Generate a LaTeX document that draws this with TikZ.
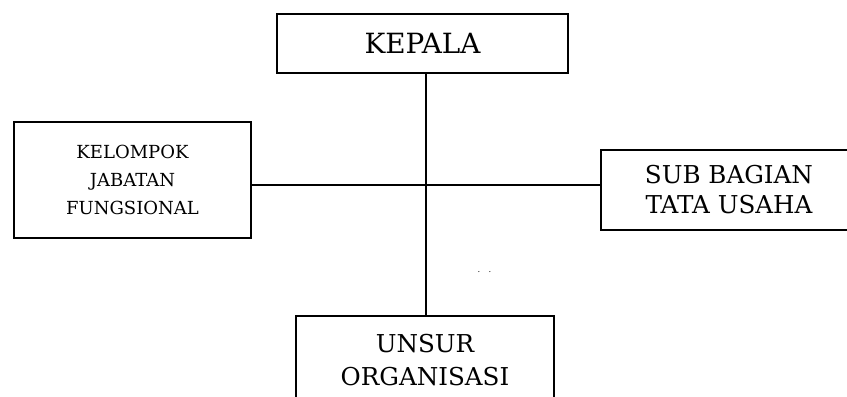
\documentclass[tikz,border=0pt]{standalone}
\usepackage{fontspec}
\setmainfont{DejaVu Serif}
\usetikzlibrary{calc}

\begin{document}
\begin{tikzpicture}[x=0.025cm,y=-0.025cm,line width=1.3pt,
    unit/.style={draw,rectangle,align=center,inner sep=0pt}]
                \useasboundingbox (0,0) rectangle (847,396);
                \clip (0,0) rectangle (847,396);
                \coordinate (hub) at (426,185);
                \node[unit,minimum width=7.275cm,minimum height=1.475cm,font=\fontsize{19.8}{23}\selectfont] (kepala) at (422.5,43.5) {KEPALA};
                \node[unit,minimum width=5.925cm,minimum height=2.9cm,font=\fontsize{12.8}{19.9}\selectfont] (kjf) at (132.5,180) {KELOMPOK\\JABATAN\\FUNGSIONAL};
                \node[unit,minimum width=6.4cm,minimum height=2cm,font=\fontsize{17.5}{21.3}\selectfont] (sbtu) at (729,190) {SUB BAGIAN\\TATA USAHA};
                \node[unit,minimum width=6.45cm,minimum height=2.2cm,font=\fontsize{17.5}{24}\selectfont] (unsur) at (425,360) {UNSUR\\ORGANISASI};
                \draw (kepala.south -| hub)--(unsur.north -| hub);
                \draw (kjf.east |- hub)--(sbtu.west |- hub);
                \node[font=\fontsize{6}{7}\selectfont,inner sep=0pt] (dots) at (484.5,272) {.\hspace{6pt}.};
            \end{tikzpicture}
\end{document}
